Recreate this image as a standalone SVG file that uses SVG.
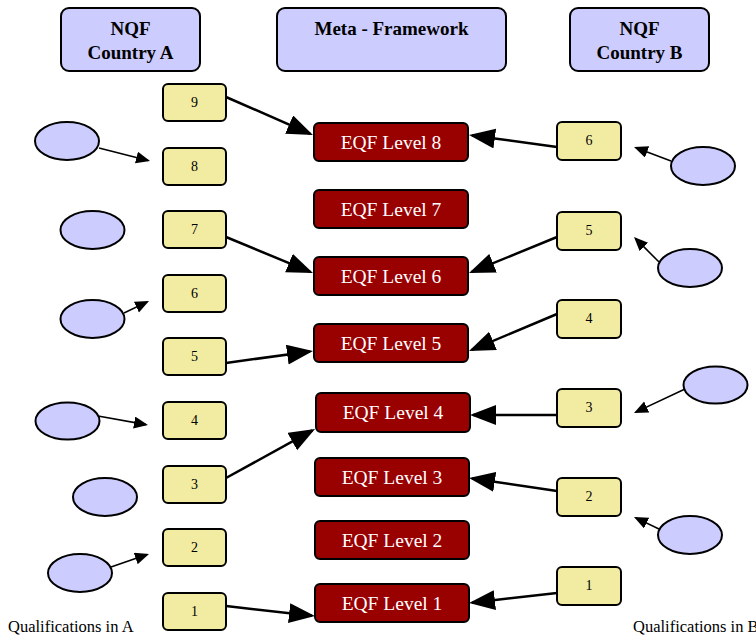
<svg xmlns="http://www.w3.org/2000/svg" width="756" height="639" viewBox="0 0 756 639">
  <style>
    .hdr { fill: #ccccff; stroke: #000; stroke-width: 2; }
    .hdr-t { font-family: "Liberation Serif", "Times New Roman", serif; font-weight: bold; font-size: 19px; text-anchor: middle; fill: #000; }
    .q { fill: #f2eca3; stroke: #000; stroke-width: 2; }
    .q-t { font-family: "Liberation Serif", "Times New Roman", serif; font-size: 14px; text-anchor: middle; fill: #000; }
    .eqf { fill: #990000; stroke: #000; stroke-width: 2; }
    .eqf-t { font-family: "Liberation Serif", "Times New Roman", serif; font-size: 19.5px; text-anchor: middle; fill: #fff; }
    .ell { fill: #ccccff; stroke: #000; stroke-width: 2; }
    .cap { font-family: "Liberation Serif", "Times New Roman", serif; font-size: 16.5px; fill: #000; }
    .thick { stroke: #000; stroke-width: 2.5; fill: none; marker-end: url(#bigHead); }
    .thin { stroke: #000; stroke-width: 1.6; fill: none; marker-end: url(#smallHead); }
  </style>
  <defs>
    <marker id="bigHead" markerUnits="userSpaceOnUse" markerWidth="28" markerHeight="22" refX="23" refY="10" orient="auto">
      <path d="M0,0 L26,10 L0,20 z" fill="#000"/>
    </marker>
    <marker id="smallHead" markerUnits="userSpaceOnUse" markerWidth="16" markerHeight="14" refX="12" refY="6" orient="auto">
      <path d="M0,0 L14,6 L0,12 z" fill="#000"/>
    </marker>
  </defs>

  <rect width="756" height="639" fill="#fff"/>

  <!-- column headers -->
  <g id="hdr-a">
    <rect class="hdr" x="61" y="8" width="139" height="63" rx="8"/>
    <text class="hdr-t" x="130.5" y="35">NQF</text>
    <text class="hdr-t" x="130.5" y="59">Country A</text>
  </g>
  <g id="hdr-meta">
    <rect class="hdr" x="277" y="8" width="229" height="63" rx="8"/>
    <text class="hdr-t" x="391.5" y="35">Meta - Framework</text>
  </g>
  <g id="hdr-b">
    <rect class="hdr" x="570" y="8" width="139" height="63" rx="8"/>
    <text class="hdr-t" x="639.5" y="35">NQF</text>
    <text class="hdr-t" x="639.5" y="59">Country B</text>
  </g>

  <!-- connectors -->
  <g id="connectors">
    <path class="thick" d="M226,97 L310.2,133.8"/>
    <path class="thick" d="M226,237 L310.2,271.9"/>
    <path class="thick" d="M226,363 L310,351.4"/>
    <path class="thick" d="M226,478 L312.4,430.4"/>
    <path class="thick" d="M226,606 L312,615.7"/>
    <path class="thick" d="M557,147 L472,135.4"/>
    <path class="thick" d="M557,237 L471.8,271.9"/>
    <path class="thick" d="M557,314 L471.8,349.8"/>
    <path class="thick" d="M557,415 L473,415"/>
    <path class="thick" d="M557,491 L472,478.4"/>
    <path class="thick" d="M557,593 L472,602.7"/>

    <path class="thin" d="M99,148 L148.1,160.5"/>
    <path class="thin" d="M124,313 L147.2,301.9"/>
    <path class="thin" d="M98,416 L146,424.6"/>
    <path class="thin" d="M111,567 L147.1,554.6"/>
    <path class="thin" d="M671,161 L635.9,147.7"/>
    <path class="thin" d="M659,262 L635.4,238.4"/>
    <path class="thin" d="M685,389 L635.8,412.1"/>
    <path class="thin" d="M659,529 L635.8,517.9"/>
  </g>

  <!-- qualifications in country A -->
  <g id="a9"><rect class="q" x="163" y="84" width="63" height="37" rx="5"/><text class="q-t" x="194.5" y="107">9</text></g>
  <g id="a8"><rect class="q" x="163" y="148" width="63" height="37" rx="5"/><text class="q-t" x="194.5" y="171">8</text></g>
  <g id="a7"><rect class="q" x="163" y="211" width="63" height="37" rx="5"/><text class="q-t" x="194.5" y="234">7</text></g>
  <g id="a6"><rect class="q" x="163" y="275" width="63" height="37" rx="5"/><text class="q-t" x="194.5" y="298">6</text></g>
  <g id="a5"><rect class="q" x="163" y="338" width="63" height="37" rx="5"/><text class="q-t" x="194.5" y="361">5</text></g>
  <g id="a4"><rect class="q" x="163" y="402" width="63" height="37" rx="5"/><text class="q-t" x="194.5" y="425">4</text></g>
  <g id="a3"><rect class="q" x="163" y="466" width="63" height="37" rx="5"/><text class="q-t" x="194.5" y="489">3</text></g>
  <g id="a2"><rect class="q" x="163" y="529" width="63" height="37" rx="5"/><text class="q-t" x="194.5" y="552">2</text></g>
  <g id="a1"><rect class="q" x="163" y="593" width="63" height="37" rx="5"/><text class="q-t" x="194.5" y="616">1</text></g>

  <!-- EQF levels -->
  <g id="eqf8"><rect class="eqf" x="314" y="123" width="154" height="38" rx="5"/><text class="eqf-t" x="391" y="149">EQF Level 8</text></g>
  <g id="eqf7"><rect class="eqf" x="314" y="190" width="154" height="38" rx="5"/><text class="eqf-t" x="391" y="216">EQF Level 7</text></g>
  <g id="eqf6"><rect class="eqf" x="314" y="257" width="154" height="38" rx="5"/><text class="eqf-t" x="391" y="283">EQF Level 6</text></g>
  <g id="eqf5"><rect class="eqf" x="314" y="324" width="154" height="38" rx="5"/><text class="eqf-t" x="391" y="350">EQF Level 5</text></g>
  <g id="eqf4"><rect class="eqf" x="316" y="393" width="154" height="39" rx="5"/><text class="eqf-t" x="393" y="419">EQF Level 4</text></g>
  <g id="eqf3"><rect class="eqf" x="315" y="458" width="154" height="38" rx="5"/><text class="eqf-t" x="392" y="484">EQF Level 3</text></g>
  <g id="eqf2"><rect class="eqf" x="315" y="521" width="154" height="38" rx="5"/><text class="eqf-t" x="392" y="547">EQF Level 2</text></g>
  <g id="eqf1"><rect class="eqf" x="315" y="584" width="154" height="38" rx="5"/><text class="eqf-t" x="392" y="610">EQF Level 1</text></g>

  <!-- qualifications in country B -->
  <g id="b6"><rect class="q" x="557" y="122" width="64" height="38" rx="5"/><text class="q-t" x="589" y="145">6</text></g>
  <g id="b5"><rect class="q" x="557" y="212" width="64" height="38" rx="5"/><text class="q-t" x="589" y="235">5</text></g>
  <g id="b4"><rect class="q" x="557" y="300" width="64" height="38" rx="5"/><text class="q-t" x="589" y="323">4</text></g>
  <g id="b3"><rect class="q" x="557" y="389" width="64" height="38" rx="5"/><text class="q-t" x="589" y="412">3</text></g>
  <g id="b2"><rect class="q" x="557" y="478" width="64" height="38" rx="5"/><text class="q-t" x="589" y="501">2</text></g>
  <g id="b1"><rect class="q" x="557" y="567" width="64" height="38" rx="5"/><text class="q-t" x="589" y="590">1</text></g>

  <!-- unlabelled source nodes -->
  <g id="ea1"><ellipse class="ell" cx="67" cy="141" rx="32" ry="19"/></g>
  <g id="ea2"><ellipse class="ell" cx="92.5" cy="230" rx="32" ry="19"/></g>
  <g id="ea3"><ellipse class="ell" cx="92.5" cy="319" rx="32" ry="19"/></g>
  <g id="ea4"><ellipse class="ell" cx="67.5" cy="421" rx="32" ry="18.5"/></g>
  <g id="ea5"><ellipse class="ell" cx="105" cy="497" rx="32" ry="19"/></g>
  <g id="ea6"><ellipse class="ell" cx="80" cy="573" rx="32" ry="19"/></g>
  <g id="eb1"><ellipse class="ell" cx="703" cy="166" rx="32" ry="19"/></g>
  <g id="eb2"><ellipse class="ell" cx="690" cy="268" rx="32" ry="19"/></g>
  <g id="eb3"><ellipse class="ell" cx="715.5" cy="385" rx="32" ry="18.5"/></g>
  <g id="eb4"><ellipse class="ell" cx="690" cy="535" rx="32" ry="19"/></g>

  <!-- captions -->
  <text class="cap" x="8" y="632">Qualifications in A</text>
  <text class="cap" x="633" y="632">Qualifications in B</text>
</svg>
